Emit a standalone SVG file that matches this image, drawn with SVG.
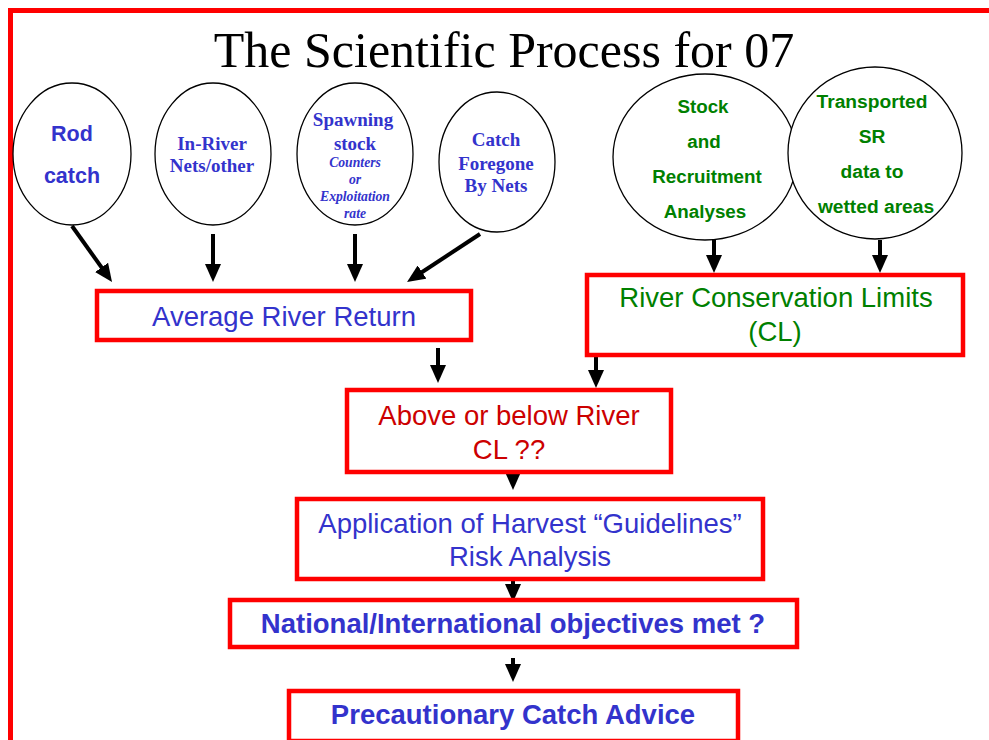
<svg xmlns="http://www.w3.org/2000/svg" width="989" height="740" viewBox="0 0 989 740">
<style>
.ell{fill:#fff;stroke:#000;stroke-width:1.3}
.box{fill:#fff;stroke:#ff0000;stroke-width:4.5}
.blue{fill:#3333cc}
.green{fill:#008000}
.red{fill:#cc0000}
.ab{font-family:"Liberation Sans",Arial,sans-serif;font-weight:bold;text-anchor:middle}
.tb{font-family:"Liberation Serif","Times New Roman",serif;font-weight:bold;text-anchor:middle}
.ti{font-family:"Liberation Serif","Times New Roman",serif;font-weight:bold;font-style:italic;text-anchor:middle}
.ar{font-family:"Liberation Sans",Arial,sans-serif;text-anchor:middle}
.conn line{stroke:#000;stroke-width:4;marker-end:url(#ah)}
</style>
<defs>
<marker id="ah" markerUnits="userSpaceOnUse" markerWidth="18" markerHeight="16" viewBox="0 0 18 16" refX="8" refY="8" orient="auto">
<path d="M0,0 L18,8 L0,16 z" fill="#000"/>
</marker>
</defs>
<rect x="10.5" y="10.5" width="1000" height="800" fill="#fff" stroke="#ff0000" stroke-width="5"/>
<text x="504" y="67" font-family="'Liberation Serif','Times New Roman',serif" font-size="50" text-anchor="middle" fill="#000">The Scientific Process for 07</text>

<g class="conn">
<line x1="72" y1="226" x2="106.2" y2="273.9"/>
<line x1="213" y1="234" x2="213" y2="272"/>
<line x1="355" y1="234" x2="355" y2="272"/>
<line x1="480" y1="234" x2="415.4" y2="276.5"/>
<line x1="714" y1="240" x2="714" y2="263"/>
<line x1="880" y1="240" x2="880" y2="263"/>
<line x1="438" y1="348" x2="438" y2="373"/>
<line x1="596" y1="356" x2="596" y2="378"/>
<line x1="513" y1="472" x2="513" y2="480"/>
<line x1="513" y1="575" x2="513" y2="592"/>
<line x1="513" y1="658" x2="513" y2="672"/>
</g>

<g id="rod">
<ellipse class="ell" cx="72" cy="154" rx="59" ry="71"/>
<text class="ab blue" font-size="21.5" x="72" y="141">Rod</text>
<text class="ab blue" font-size="21.5" x="72" y="183">catch</text>
</g>
<g id="inriver">
<ellipse class="ell" cx="213" cy="154" rx="58" ry="71"/>
<text class="tb blue" font-size="19" x="212" y="150">In-River</text>
<text class="tb blue" font-size="19" x="212" y="172">Nets/other</text>
</g>
<g id="spawning">
<ellipse class="ell" cx="355" cy="154" rx="58" ry="71"/>
<text class="tb blue" font-size="19" x="353" y="126">Spawning</text>
<text class="tb blue" font-size="19" x="355" y="150">stock</text>
<text class="ti blue" font-size="13.7" x="355" y="167">Counters</text>
<text class="ti blue" font-size="13.7" x="355" y="184">or</text>
<text class="ti blue" font-size="13.7" x="355" y="201">Exploitation</text>
<text class="ti blue" font-size="13.7" x="355" y="218">rate</text>
</g>
<g id="foregone">
<ellipse class="ell" cx="497" cy="162" rx="58" ry="70"/>
<text class="tb blue" font-size="19" x="496" y="146">Catch</text>
<text class="tb blue" font-size="19" x="496" y="170">Foregone</text>
<text class="tb blue" font-size="19" x="496" y="192">By Nets</text>
</g>
<g id="stock">
<ellipse class="ell" cx="705" cy="157" rx="92" ry="83"/>
<text class="ab green" font-size="18.8" x="703" y="113">Stock</text>
<text class="ab green" font-size="18.8" x="704" y="148">and</text>
<text class="ab green" font-size="18.8" x="707" y="183">Recruitment</text>
<text class="ab green" font-size="18.8" x="705" y="218">Analyses</text>
</g>
<g id="transported">
<ellipse class="ell" cx="875" cy="153" rx="87" ry="86"/>
<text class="ab green" font-size="19.2" x="872" y="108">Transported</text>
<text class="ab green" font-size="19.2" x="872" y="143">SR</text>
<text class="ab green" font-size="19.2" x="872" y="178">data to</text>
<text class="ab green" font-size="19.2" x="876" y="213">wetted areas</text>
</g>

<g id="arr">
<rect class="box" x="97" y="291" width="374" height="49"/>
<text class="ar blue" font-size="27.5" x="284" y="326">Average River Return</text>
</g>
<g id="rcl">
<rect class="box" x="587" y="275" width="376" height="80"/>
<text class="ar green" font-size="27.5" x="776" y="307">River Conservation Limits</text>
<text class="ar green" font-size="27.5" x="775" y="341">(CL)</text>
</g>
<g id="above">
<rect class="box" x="347" y="390" width="324" height="82"/>
<text class="ar red" font-size="27.5" x="509" y="425">Above or below River</text>
<text class="ar red" font-size="27.5" x="509" y="459">CL ??</text>
</g>
<g id="application">
<rect class="box" x="297" y="499" width="466" height="80"/>
<text class="ar blue" font-size="27.5" x="530" y="533">Application of Harvest “Guidelines”</text>
<text class="ar blue" font-size="27.5" x="530" y="566">Risk Analysis</text>
</g>
<g id="national">
<rect class="box" x="230" y="600" width="567" height="47"/>
<text class="ab blue" font-size="27.5" x="513" y="633">National/International objectives met ?</text>
</g>
<g id="precautionary">
<rect class="box" x="289" y="691" width="449" height="50"/>
<text class="ab blue" font-size="27.5" x="513" y="724">Precautionary Catch Advice</text>
</g>
</svg>
